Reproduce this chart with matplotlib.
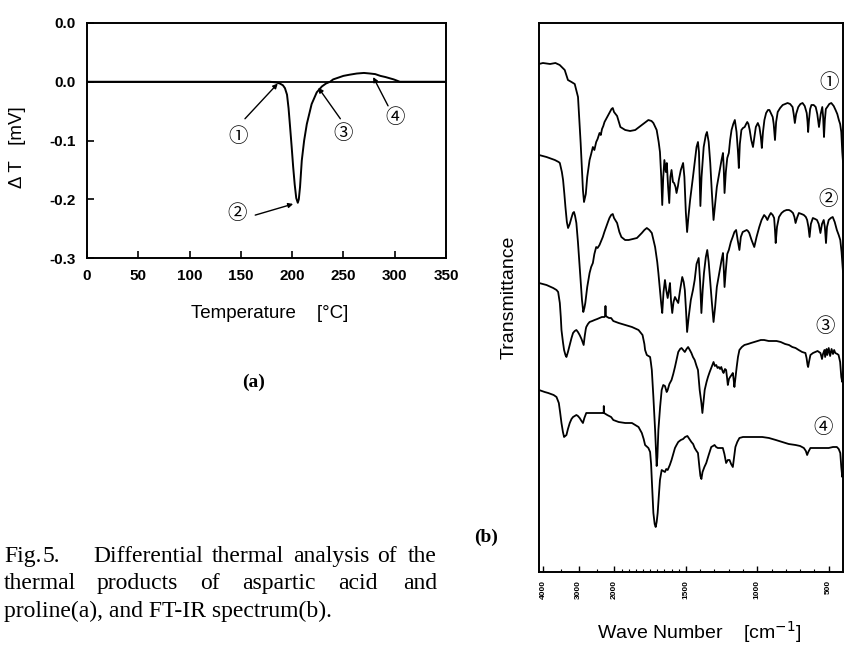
import numpy as np
import matplotlib
matplotlib.use("Agg")
import matplotlib.pyplot as plt
from matplotlib.ticker import FixedLocator

plt.rcParams["font.family"] = ["Liberation Sans", "DejaVu Sans"]

# ---------------- (a) differential thermal analysis ----------------
dta_temp = [0, 150, 178, 184, 188, 191, 193, 195, 196.5, 198, 199.5, 201, 202.5,
            204, 205.5, 206.5, 207.7, 209.4, 211.7, 214.3, 219, 224, 229, 233,
            237, 240, 245, 250, 256, 263, 270, 276, 281, 286, 291, 295, 299,
            302, 305, 350]
dta_dT = [0, 0, 0, -0.001, -0.003, -0.006, -0.011, -0.022, -0.045, -0.077,
          -0.11, -0.145, -0.175, -0.198, -0.206, -0.2, -0.179, -0.134, -0.1,
          -0.072, -0.038, -0.018, -0.008, -0.003, 0.0, 0.004, 0.007, 0.01,
          0.012, 0.014, 0.015, 0.014, 0.013, 0.01, 0.008, 0.006, 0.004, 0.002,
          0.0, 0.0]
temp_ticks = [0, 50, 100, 150, 200, 250, 300, 350]
dT_ticks = [0.1, 0.0, -0.1, -0.2, -0.3]
dT_ticklabels = ["0.0", "0.0", "-0.1", "-0.2", "-0.3"]
dta_marks = ["①", "②", "③", "④"]

# ---------------- (b) FT-IR spectra ----------------
ir_ticks = [4000, 3000, 2000, 1500, 1000, 500]
ir_ticklabels = ["4000", "3000", "2000", "1500", "1000", "500"]
ir_marks = ["①", "②", "③", "④"]

ir_wn_1 = [4110, 4000, 3800, 3650, 3530, 3390, 3300, 3200, 3110, 3018, 2944, 2880,
           2850, 2800, 2760, 2694, 2650, 2602, 2560, 2509, 2470, 2416, 2380, 2346,
           2310, 2276, 2200, 2137, 2080, 2045, 2010, 1981, 1958, 1924, 1890, 1854,
           1808, 1762, 1740, 1727, 1704, 1690, 1681, 1672, 1665, 1658, 1650, 1640,
           1633, 1624, 1616, 1608, 1600, 1590, 1582, 1572, 1565, 1555, 1549, 1535,
           1519, 1510, 1500, 1491, 1482, 1470, 1461, 1450, 1438, 1425, 1415, 1408,
           1398, 1390, 1375, 1360, 1352, 1340, 1329, 1318, 1306, 1295, 1283, 1265,
           1250, 1240, 1235, 1229, 1220, 1210, 1199, 1190, 1180, 1168, 1157, 1145,
           1135, 1129, 1122, 1111, 1100, 1088, 1078, 1070, 1062, 1053, 1042, 1030,
           1020, 1010, 996, 985, 975, 968, 960, 950, 938, 925, 915, 905, 892, 885,
           876, 868, 857, 840, 822, 805, 788, 770, 753, 745, 737, 728, 713, 698,
           683, 668, 654, 648, 644, 638, 630, 621, 605, 591, 580, 568, 556, 545,
           539, 533, 527, 520, 510, 496, 482, 465, 452, 440, 429, 420, 412, 405,
           400]
ir_t_1 = [508, 509, 508, 509, 507, 502, 492, 490, 488, 475, 429, 382,
          370, 378, 395, 412, 418, 425, 422, 430, 433, 439, 437, 443,
          446, 450, 455, 459, 463, 464, 460, 456, 445, 442, 441, 442,
          447, 452, 451, 449, 442, 430, 420, 395, 367, 395, 412, 400,
          409, 385, 369, 395, 402, 390, 389, 385, 379, 386, 392, 402,
          409, 395, 360, 340, 355, 372, 382, 395, 409, 425, 430, 420,
          366, 395, 425, 437, 440, 430, 409, 380, 352, 368, 385, 400,
          412, 419, 405, 379, 400, 414, 419, 432, 442, 448, 452, 440,
          420, 404, 428, 442, 444, 445, 448, 450, 448, 442, 432, 425,
          435, 445, 449, 445, 435, 424, 440, 452, 459, 462, 462, 459, 455, 448,
          432, 450, 460, 464, 467, 468, 469, 468, 465, 458, 449, 458, 465, 468,
          469, 466, 459, 450, 440, 452, 463, 467, 467, 465, 458, 445, 458, 465,
          455, 435, 452, 463, 465, 468, 469, 466, 462, 458, 452, 448, 440, 420,
          410]

ir_wn_2 = [4110, 3900, 3750, 3667, 3560, 3527, 3470, 3436, 3400, 3370, 3330, 3296,
           3250, 3203, 3160, 3130, 3100, 3064, 3020, 2972, 2935, 2907, 2870, 2840,
           2814, 2760, 2694, 2650, 2602, 2560, 2509, 2470, 2416, 2370, 2324, 2280,
           2231, 2180, 2138, 2090, 2045, 2010, 1981, 1965, 1951, 1925, 1900, 1870,
           1842, 1808, 1790, 1773, 1755, 1738, 1715, 1700, 1692, 1680, 1672, 1665,
           1656, 1646, 1637, 1627, 1618, 1611, 1603, 1595, 1586, 1576, 1565, 1553,
           1540, 1525, 1515, 1507, 1498, 1491, 1480, 1465, 1450, 1438, 1425, 1410,
           1400, 1391, 1382, 1373, 1360, 1350, 1340, 1329, 1318, 1306, 1295, 1283,
           1265, 1250, 1240, 1235, 1229, 1220, 1210, 1199, 1185, 1172, 1160, 1148,
           1137, 1125, 1115, 1102, 1088, 1074, 1065, 1056, 1040, 1021, 1005, 986,
           970, 952, 940, 929, 917, 905, 892, 882, 876, 871, 862, 848, 830, 813,
           795, 778, 765, 750, 740, 732, 722, 709, 690, 674, 660, 651, 642, 634,
           625, 611, 595, 582, 570, 558, 547, 535, 527, 519, 512, 500, 485, 472,
           458, 443, 430, 419, 410, 400]
ir_t_2 = [417, 415, 413, 412, 410, 409, 400, 392, 378, 365, 350, 344,
          348, 354, 359, 360, 356, 349, 330, 305, 285, 272, 260, 264,
          269, 285, 299, 305, 309, 318, 325, 324, 327, 331, 335, 340,
          345, 350, 354, 357, 358, 354, 349, 340, 335, 332, 332, 333,
          334, 339, 342, 344, 342, 339, 325, 310, 299, 280, 268, 259,
          280, 292, 282, 274, 282, 289, 270, 259, 270, 275, 272, 269,
          282, 295, 290, 282, 260, 240, 255, 272, 282, 292, 308, 314,
          290, 259, 282, 299, 315, 322, 310, 290, 270, 250, 265, 285,
          300, 312, 319, 305, 285, 302, 318, 322, 330, 335, 340, 342,
          332, 322, 335, 340, 341, 342, 341, 339, 332, 325, 335, 345,
          352, 357, 355, 352, 356, 359, 357, 354, 342, 329, 345, 355, 359, 361,
          362, 362, 361, 359, 355, 349, 354, 359, 358, 357, 355, 352, 345, 335,
          348, 354, 353, 352, 348, 339, 348, 352, 345, 329, 345, 352, 354, 355,
          350, 342, 337, 332, 320, 300]

ir_wn_3 = [4110, 3900, 3713, 3620, 3574, 3527, 3500, 3481, 3440, 3408, 3370, 3342,
           3300, 3249, 3200, 3157, 3110, 3064, 3020, 2972, 2920, 2880, 2860, 2830,
           2800, 2787, 2740, 2694, 2620, 2555, 2480, 2416, 2350, 2277, 2255, 2249,
           2243, 2200, 2150, 2092, 2030, 1970, 1924, 1877, 1831, 1803, 1790, 1785,
           1773, 1750, 1745, 1738, 1727, 1715, 1708, 1704, 1699, 1692, 1680, 1669,
           1658, 1646, 1634, 1627, 1615, 1600, 1588, 1576, 1565, 1553, 1540, 1530,
           1518, 1507, 1495, 1484, 1472, 1461, 1450, 1438, 1425, 1415, 1403, 1391,
           1384, 1376, 1368, 1355, 1345, 1333, 1322, 1306, 1297, 1287, 1278, 1269,
           1260, 1252, 1243, 1236, 1226, 1218, 1212, 1206, 1198, 1190, 1180, 1171,
           1165, 1160, 1152, 1144, 1135, 1125, 1108, 1090, 1065, 1044, 1020, 998,
           975, 952, 920, 894, 865, 836, 805, 778, 755, 732, 710, 686, 663, 655,
           648, 644, 638, 628, 610, 594, 578, 558, 552, 547, 540, 530, 525, 515,
           510, 500, 490, 480, 470, 462, 454, 440, 431, 420, 412, 405, 400]
ir_t_3 = [289, 287, 284, 282, 280, 269, 255, 242, 230, 222, 217, 215,
          220, 227, 234, 239, 241, 242, 240, 237, 233, 229, 227, 236,
          243, 245, 248, 250, 251, 252, 253, 254, 255, 255, 256, 266,
          256, 255, 254, 254, 251, 249, 247, 245, 242, 237, 228, 222,
          217, 215, 210, 202, 175, 142, 118, 106, 115, 142, 165, 182,
          187, 186, 180, 182, 188, 192, 198, 205, 212, 220, 223, 224,
          222, 220, 223, 225, 222, 219, 215, 212, 206, 202, 182, 169,
          159, 170, 182, 190, 195, 200, 204, 210, 206, 207, 204, 205,
          203, 205, 201, 199, 203, 202, 195, 187, 193, 195, 197, 199,
          192, 185, 195, 205, 215, 222, 225, 227, 228, 229, 230, 231,
          232, 232, 231, 231, 231, 230, 228, 227, 225, 224, 222, 220, 219, 214,
          207, 205, 210, 217, 219, 220, 221, 219, 216, 213, 218, 222, 215, 223,
          217, 224, 216, 223, 218, 222, 219, 218, 217, 210, 195, 190, 200]

ir_wn_4 = [4110, 3950, 3852, 3700, 3620, 3555, 3520, 3481, 3440, 3408, 3375, 3342,
           3300, 3249, 3200, 3157, 3110, 3064, 3020, 2972, 2920, 2880, 2840, 2787,
           2700, 2602, 2500, 2416, 2330, 2300, 2296, 2290, 2200, 2092, 2030, 1970,
           1924, 1877, 1831, 1808, 1795, 1785, 1762, 1750, 1743, 1738, 1727, 1718,
           1711, 1704, 1697, 1688, 1681, 1669, 1658, 1646, 1637, 1627, 1612, 1600,
           1588, 1576, 1565, 1553, 1535, 1519, 1505, 1489, 1475, 1461, 1449, 1438,
           1425, 1415, 1405, 1398, 1391, 1383, 1370, 1357, 1340, 1322, 1310, 1299,
           1288, 1276, 1258, 1241, 1230, 1218, 1206, 1194, 1183, 1171, 1162, 1153,
           1140, 1125, 1100, 1079, 1045, 1010, 965, 918, 870, 825, 780, 732, 700,
           674, 660, 651, 643, 628, 600, 570, 535, 500, 470, 443, 430, 419, 412,
           405, 400]
ir_t_4 = [182, 180, 179, 177, 175, 169, 160, 149, 140, 135, 136, 137,
          143, 149, 153, 155, 156, 157, 156, 154, 151, 149, 154, 159,
          159, 159, 159, 159, 159, 159, 166, 159, 157, 155, 152, 150,
          149, 149, 145, 139, 133, 127, 124, 120, 108, 92, 59, 48,
          45, 50, 59, 78, 92, 102, 101, 100, 103, 102, 107, 112,
          118, 124, 127, 130, 132, 133, 135, 136, 133, 130, 128, 124,
          121, 119, 105, 96, 93, 100, 105, 109, 117, 125, 126, 127,
          125, 124, 124, 124, 118, 109, 112, 112, 108, 105, 115, 125,
          130, 134, 135, 135, 135, 135, 135, 134, 132, 130, 128, 127, 126,
          124, 121, 117, 120, 124, 124, 124, 124, 124, 125, 125, 123, 119, 105,
          95, 100]

ir_series = [(ir_wn_1, ir_t_1), (ir_wn_2, ir_t_2), (ir_wn_3, ir_t_3), (ir_wn_4, ir_t_4)]

caption_line1 = ["Fig.", "5.", "Differential", "thermal", "analysis", "of", "the"]
caption_line2 = ["thermal", "products", "of", "aspartic", "acid", "and"]
caption_line3 = "proline(a), and FT-IR spectrum(b)."

W, H = 848, 648
fig = plt.figure(figsize=(W / 100, H / 100), dpi=100)


def fx(px):
    return px / W


def fy(py):
    return 1 - py / H


CIRCLED = ["Noto Sans CJK JP", "DejaVu Sans"]

# ---------- DTA panel ----------
ax1 = fig.add_axes([fx(87), fy(258), fx(446) - fx(87), fy(23) - fy(258)])
ax1.axhline(0.0, color="black", lw=1.3)
ax1.plot(dta_temp, dta_dT, color="black", lw=1.4)
ax1.set_xlim(0, 350)
ax1.set_ylim(-0.3, 0.1)
ax1.set_xticks(temp_ticks)
ax1.set_yticks(dT_ticks)
ax1.set_yticklabels(dT_ticklabels)
ax1.tick_params(direction="in", length=5, width=1.2, labelsize=11, pad=8)
for lab in ax1.get_xticklabels() + ax1.get_yticklabels():
    lab.set_fontweight("bold")
for sp in ax1.spines.values():
    sp.set_linewidth(1.4)
ax1.set_xlabel("Temperature    [°C]", fontsize=13.5)
ax1.xaxis.set_label_coords(0.51, -0.2)
ax1.set_ylabel("Δ T   [mV]", fontsize=13.5)
ax1.yaxis.set_label_coords(-0.17, 0.47)

arrow_kw = dict(arrowstyle="-|>", color="black", lw=1.0, mutation_scale=7,
                shrinkA=0, shrinkB=0)
ann = [((147, -0.093), (154, -0.063), (186, -0.003)),
       ((146, -0.224), (164, -0.227), (201, -0.208)),
       ((250, -0.088), (247, -0.063), (225.5, -0.010)),
       ((300, -0.061), (293.5, -0.041), (279, 0.008))]
for mark, (txy, tail, tip) in zip(dta_marks, ann):
    ax1.text(*txy, mark, ha="center", va="center", fontsize=14, family=CIRCLED)
    ax1.annotate("", xy=tip, xytext=tail, arrowprops=arrow_kw)

fig.text(fx(254), fy(382), "(a)", ha="center", va="center", fontsize=14,
         family="Liberation Serif", fontweight="bold")

# ---------- FT-IR panel ----------
def _fwd(w):
    w = np.asarray(w, dtype=float)
    return np.where(w >= 2000, 1500 + w / 4.0, w)


def _inv(u):
    u = np.asarray(u, dtype=float)
    return np.where(u >= 2000, (u - 1500) * 4.0, u)


ax2 = fig.add_axes([fx(539), fy(572), fx(843) - fx(539), fy(23) - fy(572)])
ax2.set_xscale("function", functions=(_fwd, _inv))
for wn, tr in ir_series:
    ax2.plot(wn, tr, color="black", lw=1.3)
ax2.set_xlim(4110, 400)
ax2.set_ylim(0, 549)
ax2.xaxis.set_major_locator(FixedLocator(ir_ticks))
ax2.set_xticklabels(ir_ticklabels, rotation=90, fontsize=6, fontweight="bold")
minor = [3500, 2500] + list(range(1950, 1500, -50)) + list(range(1400, 400, -100))
ax2.xaxis.set_minor_locator(FixedLocator([m for m in minor if m not in ir_ticks]))
ax2.tick_params(axis="x", which="major", direction="in", length=4, width=1.0, pad=6)
ax2.tick_params(axis="x", which="minor", direction="in", length=2.5, width=0.8)
ax2.set_yticks([])
for sp in ax2.spines.values():
    sp.set_linewidth(1.4)
ax2.set_xlabel("Wave Number    [cm$^{-1}$]", fontsize=14)
ax2.xaxis.set_label_coords(0.526, -0.085)
ax2.set_ylabel("Transmittance", fontsize=14)
ax2.yaxis.set_label_coords(-0.07, 0.5)

for mark, (xa, ya) in zip(ir_marks, [(0.954, 0.8925), (0.951, 0.678),
                                     (0.941, 0.448), (0.934, 0.264)]):
    ax2.text(xa, ya, mark, transform=ax2.transAxes, ha="center", va="center",
             fontsize=14, family=CIRCLED)

fig.text(fx(486), fy(537), "(b)", ha="center", va="center", fontsize=14,
         family="Liberation Serif", fontweight="bold")

# ---------- caption ----------
cap_kw = dict(fontsize=17, family="Liberation Serif", va="baseline", ha="left")
for word, px in zip(caption_line1, [4, 43, 93, 212, 293, 377, 408]):
    fig.text(fx(px), fy(562), word, **cap_kw)
for word, px in zip(caption_line2, [4, 97, 200, 242, 338, 403]):
    fig.text(fx(px), fy(589), word, **cap_kw)
fig.text(fx(4), fy(617), caption_line3, **cap_kw)

fig.savefig("out.png", dpi=100)
